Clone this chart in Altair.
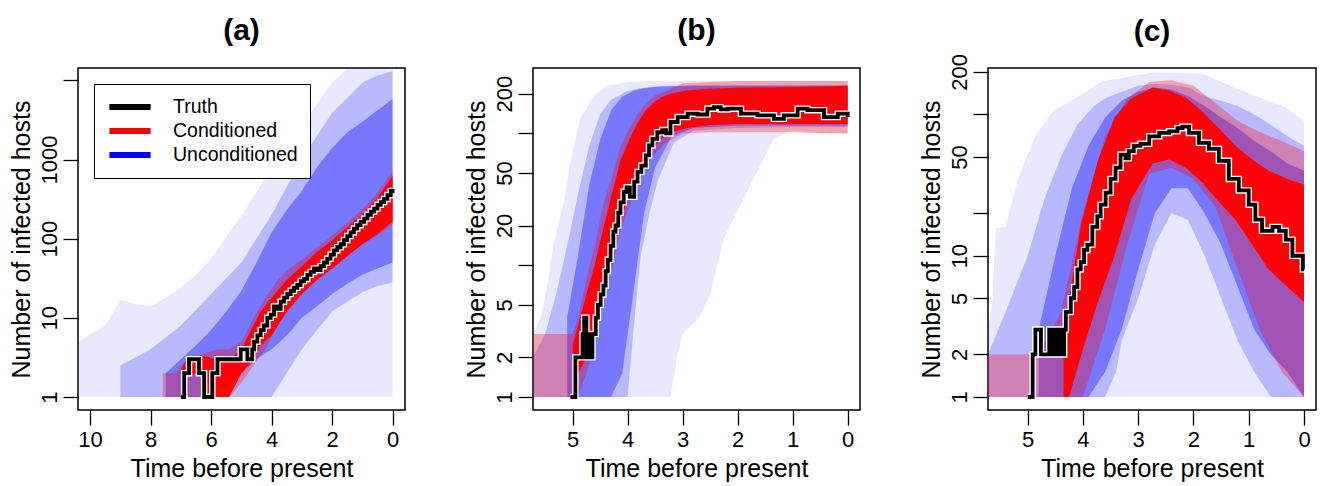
import altair as alt
import pandas as pd

FONT = "Liberation Sans"
BLUE = "#0000ff"
RED = "#ff0000"

SERIES = ["Truth", "Conditioned", "Unconditioned"]
SERIES_COLORS = ["#000000", RED, BLUE]

# ---------------- Panel (a) ----------------
A_TRUTH_T = [7.00, 6.89, 6.73, 6.40, 6.23, 5.96, 5.79, 5.02, 4.80, 4.64, 4.58, 4.47, 4.36, 4.26,
             4.14, 4.03, 3.92, 3.81, 3.70, 3.59, 3.48, 3.37, 3.26, 3.15, 3.04, 2.93, 2.82, 2.71,
             2.60, 2.49, 2.38, 2.27, 2.16, 2.05, 1.94, 1.83, 1.72, 1.61, 1.50, 1.39, 1.28, 1.17,
             1.06, 0.94, 0.83, 0.72, 0.61, 0.50, 0.39, 0.28, 0.17, 0.06, 0.00]
A_TRUTH_N = [1, 2, 3, 2, 1, 2, 3, 4, 3, 4, 5, 6, 7, 8,
             10, 11, 14, 13, 16, 18, 20, 22, 24, 26, 29, 31, 35, 38,
             42, 40, 45, 50, 56, 63, 71, 78, 85, 96, 108, 120, 134, 148,
             163, 179, 200, 220, 240, 268, 290, 318, 355, 400, 428]

A_BO_T = [10.4, 9.5, 9.0, 8.5, 8.0, 7.5, 7.0, 6.5, 6.0, 5.5, 5.0, 4.5, 4.0, 3.5, 3.0, 2.5, 2.0, 1.5, 1.0, 0.5, 0.0]
A_BO_LO = [1, 1, 1, 1, 1, 1, 1, 1, 1, 1, 1, 1, 1, 1, 1, 1, 1, 1, 1, 1, 1]
A_BO_HI = [5, 8, 17, 15, 14, 18, 24, 35, 56, 105, 196, 390, 760, 1450, 2700, 5000, 9400, 14000, 14000, 14000, 14000]

A_BM_T = [9.0, 8.0, 7.0, 6.0, 5.0, 4.0, 3.5, 3.0, 2.5, 2.0, 1.5, 1.0, 0.5, 0.0]
A_BM_LO = [1, 1, 1, 1, 1, 1, 2, 4, 7, 12, 16, 21, 25, 28]
A_BM_HI = [2.5, 4, 8, 20, 50, 200, 450, 1000, 2000, 3900, 6000, 9400, 11500, 13000]

A_BI_T = [7.5, 7.0, 6.5, 6.0, 5.5, 5.0, 4.5, 4.0, 3.5, 3.0, 2.5, 2.0, 1.5, 1.0, 0.5, 0.0]
A_BI_LO = [1, 1, 1, 1, 1.3, 2, 3, 4, 6, 10, 14, 20, 27, 35, 42, 50]
A_BI_HI = [2, 3, 4.5, 7, 12, 22, 50, 120, 230, 400, 800, 1400, 2200, 3000, 4200, 5800]

A_RF_T = [7.6, 7.2, 6.8, 6.3, 5.8, 5.4, 5.0, 4.6, 4.2, 3.8, 3.4, 3.0, 2.5, 2.0, 1.5, 1.0, 0.5, 0.0]
A_RF_LO = [1, 1, 1, 1, 1, 1, 1.5, 2.5, 4, 8, 13, 20, 30, 42, 60, 85, 110, 150]
A_RF_HI = [2, 2, 3, 3.5, 4, 4, 5, 10, 18, 30, 42, 55, 78, 110, 160, 235, 380, 720]

A_RC_T = [7.0, 6.8, 6.5, 6.3, 6.1, 5.8, 5.4, 5.0, 4.6, 4.36, 4.0, 3.5, 3.0, 2.5, 2.0, 1.5, 1.0, 0.5, 0.0]
A_RC_LO = [1.8, 1.9, 2, 2, 1, 1, 1, 2, 3, 4.5, 6, 12, 20, 30, 42, 60, 85, 115, 165]
A_RC_HI = [2.2, 3.1, 3.3, 3.3, 3.2, 3, 3, 4, 8, 12, 18, 30, 45, 68, 95, 140, 205, 330, 620]

# ---------------- Panel (b) ----------------
B_TRUTH_T = [5.04, 4.95, 4.82, 4.79, 4.75, 4.70, 4.66, 4.64, 4.58, 4.54, 4.49, 4.44, 4.40, 4.36,
             4.31, 4.26, 4.22, 4.17, 4.13, 4.07, 4.02, 3.96, 3.88, 3.82, 3.75, 3.67, 3.61, 3.55,
             3.46, 3.37, 3.30, 3.22, 3.09, 2.91, 2.73, 2.55, 2.43, 2.31, 2.18, 1.94, 1.64, 1.34,
             1.16, 0.91, 0.73, 0.43, 0.18, 0.00]
B_TRUTH_N = [1, 2, 3, 4, 2, 3, 2, 3, 4, 5, 6, 7, 9, 11,
             14, 18, 20, 25, 30, 36, 39, 33, 43, 51, 57, 68, 81, 91,
             102, 106, 100, 122, 133, 141, 139, 154, 158, 152, 154, 141, 137, 129,
             137, 154, 150, 133, 141, 133]

B_BO_T = [5.72, 5.58, 5.46, 5.34, 5.16, 5.04, 4.86, 4.61, 4.37, 4.0, 3.5, 3.22, 3.1, 3.0, 2.7, 2.5, 2.25, 1.94, 1.64, 1.34, 1.04, 0.5, 0.0]
B_BO_LO = [1, 1, 1, 1, 1, 1, 1, 1, 1, 1, 1, 1, 2, 3, 4, 6, 16, 29, 52, 91, 105, 100, 100]
B_BO_HI = [3, 4, 7, 15, 30, 61, 129, 194, 230, 245, 250, 250, 250, 250, 250, 250, 250, 250, 250, 250, 250, 250, 250]

B_BM_T = [5.72, 5.5, 5.3, 5.1, 4.9, 4.7, 4.5, 4.3, 4.0, 3.9, 3.76, 3.6, 3.46, 3.16, 2.8, 2.0, 1.0, 0.0]
B_BM_LO = [1, 1, 1, 1, 1, 1, 1, 1, 1, 3, 12, 25, 43, 85, 105, 110, 112, 112]
B_BM_HI = [2, 3, 6, 14, 35, 80, 140, 180, 210, 215, 220, 225, 228, 230, 232, 232, 232, 232]

B_BI_T = [5.1, 4.9, 4.7, 4.5, 4.3, 4.1, 3.9, 3.7, 3.5, 3.2, 2.8, 2.0, 1.0, 0.0]
B_BI_LO = [1, 1, 1, 1, 1, 1.5, 6, 25, 55, 95, 110, 115, 115, 115]
B_BI_HI = [4, 12, 40, 90, 150, 190, 210, 220, 225, 228, 230, 230, 230, 230]

B_RF_T = [5.72, 5.0, 4.9, 4.75, 4.6, 4.45, 4.3, 4.13, 3.97, 3.82, 3.67, 3.5, 3.3, 3.0, 2.5, 2.0, 1.0, 0.0]
B_RF_LO = [1, 1, 1, 1.5, 2.5, 5, 9, 18, 28, 40, 55, 70, 85, 100, 102, 102, 102, 100]
B_RF_HI = [3, 3, 4, 8, 14, 28, 45, 80, 110, 140, 170, 195, 210, 240, 245, 250, 250, 250]

B_RC_T = [5.0, 4.9, 4.75, 4.6, 4.43, 4.3, 4.13, 3.97, 3.82, 3.67, 3.52, 3.37, 3.22, 2.91, 2.5, 2.0, 1.0, 0.0]
B_RC_LO = [1, 1.5, 2, 3, 6, 11, 22, 34, 47, 62, 80, 92, 102, 110, 116, 118, 118, 118]
B_RC_HI = [2.5, 3.5, 6, 10, 20, 33, 62, 90, 120, 150, 172, 190, 200, 212, 218, 222, 225, 230]

# ---------------- Panel (c) ----------------
C_TRUTH_T = [5.00, 4.91, 4.86, 4.76, 4.61, 4.57, 4.55, 4.50, 4.47, 4.43, 4.40, 4.36, 4.34, 4.31,
             4.22, 4.16, 4.10, 4.04, 3.98, 3.92, 3.83, 3.74, 3.68, 3.59, 3.50, 3.41, 3.32, 3.23,
             3.17, 3.08, 2.96, 2.80, 2.62, 2.44, 2.29, 2.20, 2.08, 1.90, 1.72, 1.54, 1.36, 1.18,
             1.00, 0.88, 0.76, 0.57, 0.45, 0.33, 0.21, 0.09, 0.02, 0.00]
C_TRUTH_N = [1, 2, 3, 2, 3, 2, 3, 2, 3, 2, 3, 2, 3, 4,
             5, 6, 8, 9, 11, 12, 16, 19, 23, 28, 35, 42, 52, 49,
             55, 60, 62, 70, 74, 76, 80, 82, 74, 63, 57, 47, 35, 29,
             23, 18, 15, 16, 15, 13, 10, 10, 8, 8]

C_BO_T = [5.72, 5.64, 5.58, 5.40, 5.16, 4.85, 4.55, 4.13, 3.65, 2.74, 1.84, 0.94, 0.33, 0.0]
C_BO_LO = [1, 1, 1, 1, 1, 1, 1, 1, 1, 1, 1, 1, 1, 1]
C_BO_HI = [3, 4.7, 15.7, 16, 37, 72, 105, 131, 172, 198, 194, 138, 112, 90]

C_BM_T = [5.72, 5.4, 5.0, 4.7, 4.4, 4.1, 3.8, 3.6, 3.4, 3.3, 3.0, 2.7, 2.4, 2.1, 1.8, 1.5, 1.2, 0.9, 0.6, 0.3, 0.0]
C_BM_LO = [1, 1, 1, 1, 1, 1, 1, 1, 1.5, 2.5, 5, 12, 20, 18, 10, 5, 2.5, 1.5, 1, 1, 1]
C_BM_HI = [2, 4, 10, 25, 50, 85, 115, 130, 140, 145, 160, 165, 162, 155, 135, 125, 115, 100, 85, 70, 60]

C_BI_T = [4.8, 4.5, 4.2, 3.9, 3.6, 3.3, 3.0, 2.7, 2.4, 2.1, 1.8, 1.5, 1.2, 0.9, 0.6, 0.3, 0.0]
C_BI_LO = [1, 1, 1, 1, 1.5, 3, 8, 20, 30, 30, 20, 12, 6, 3, 2, 1.5, 1]
C_BI_HI = [3, 10, 30, 60, 95, 125, 145, 155, 150, 135, 115, 95, 80, 65, 55, 45, 40]

C_RF_T = [5.72, 4.8, 4.4, 4.0, 3.6, 3.2, 2.8, 2.4, 2.0, 1.6, 1.2, 0.8, 0.4, 0.0]
C_RF_LO = [1, 1, 1, 1, 3, 12, 38, 42, 35, 22, 8, 3, 1.5, 1]
C_RF_HI = [2, 2, 4, 20, 70, 130, 170, 175, 160, 120, 90, 75, 65, 55]

C_RC_T = [4.35, 4.25, 4.03, 3.73, 3.43, 3.13, 2.74, 2.44, 2.14, 1.84, 1.54, 1.24, 0.94, 0.64, 0.3, 0.0]
C_RC_LO = [1, 1, 2, 4.7, 10, 25, 45, 48, 42, 33, 24, 18, 12, 8, 6, 4.7]
C_RC_HI = [3, 5, 17, 47, 95, 130, 155, 148, 132, 105, 80, 60, 48, 40, 35, 32]

# axis ticks / domains
A_XTICKS = [0, 2, 4, 6, 8, 10]
BC_XTICKS = [0, 1, 2, 3, 4, 5]
A_YTICKS = [1, 10, 100, 1000, 10000]
A_YHIDE = [10000]
B_YTICKS = [1, 2, 5, 10, 20, 50, 100, 200]
B_YHIDE = [10, 100]
C_YTICKS = [1, 2, 5, 10, 20, 50, 100, 200]
C_YHIDE = [20, 100]

OPACITY = {"bo": 0.09, "bm": 0.2, "bi": 0.35, "rf": 0.3, "rc": 0.95}


def panel(title, bands, truth_t, truth_n, xdom, xticks, ydom, yticks, yhide, width, legend, toff):
    xs = alt.Scale(domain=xdom, reverse=True, nice=False, zero=False)
    ys = alt.Scale(type="log", domain=ydom, nice=False)
    xax = alt.Axis(values=xticks, title="Time before present", format="d")
    cond = " || ".join(f"datum.value == {v}" for v in yhide)
    yax = alt.Axis(values=yticks, title="Number of infected hosts", format="d",
                   labelExpr=f"({cond}) ? '' : datum.label")
    layers = []
    for t, lo, hi, color, op in bands:
        df = pd.DataFrame({"t": t, "lo": lo, "hi": hi})
        layers.append(
            alt.Chart(df).mark_area(color=color, opacity=op, clip=True, interpolate="linear").encode(
                x=alt.X("t:Q", scale=xs, axis=xax),
                y=alt.Y("lo:Q", scale=ys, axis=yax),
                y2="hi:Q",
            )
        )
    tdf = pd.DataFrame({"t": truth_t, "n": truth_n, "series": ["Truth"] * len(truth_t)})
    base = alt.Chart(tdf).encode(
        x=alt.X("t:Q", scale=xs, axis=xax),
        y=alt.Y("n:Q", scale=ys, axis=yax),
        order=alt.Order("t:Q", sort="descending"),
    )
    white = base.mark_line(interpolate="step-after", strokeWidth=6.5, clip=True,
                           strokeJoin="miter").encode(color=alt.value("white"))
    if legend:
        col = alt.Color("series:N", scale=alt.Scale(domain=SERIES, range=SERIES_COLORS),
                        legend=alt.Legend(title=None, orient="top-left", offset=16))
    else:
        col = alt.value("black")
    black = base.mark_line(interpolate="step-after", strokeWidth=3.8, clip=True,
                           strokeJoin="miter").encode(color=col)
    return alt.layer(*layers, white, black).properties(
        width=width, height=342,
        title=alt.TitleParams(title, baseline="alphabetic", offset=toff),
    )


pa = panel("(a)",
           [(A_BO_T, A_BO_LO, A_BO_HI, BLUE, OPACITY["bo"]),
            (A_BM_T, A_BM_LO, A_BM_HI, BLUE, OPACITY["bm"]),
            (A_BI_T, A_BI_LO, A_BI_HI, BLUE, OPACITY["bi"]),
            (A_RF_T, A_RF_LO, A_RF_HI, RED, OPACITY["rf"]),
            (A_RC_T, A_RC_LO, A_RC_HI, RED, OPACITY["rc"])],
           A_TRUTH_T, A_TRUTH_N, [-0.41, 10.40], A_XTICKS, [0.6855, 14322], A_YTICKS, A_YHIDE, 327, True, -2)

pb = panel("(b)",
           [(B_BO_T, B_BO_LO, B_BO_HI, BLUE, OPACITY["bo"]),
            (B_BM_T, B_BM_LO, B_BM_HI, BLUE, OPACITY["bm"]),
            (B_BI_T, B_BI_LO, B_BI_HI, BLUE, OPACITY["bi"]),
            (B_RF_T, B_RF_LO, B_RF_HI, RED, OPACITY["rf"]),
            (B_RC_T, B_RC_LO, B_RC_HI, RED, OPACITY["rc"])],
           B_TRUTH_T, B_TRUTH_N, [-0.224, 5.72], BC_XTICKS, [0.797, 313.3], B_YTICKS, B_YHIDE, 327, False, -2)

pc = panel("(c)",
           [(C_BO_T, C_BO_LO, C_BO_HI, BLUE, OPACITY["bo"]),
            (C_BM_T, C_BM_LO, C_BM_HI, BLUE, OPACITY["bm"]),
            (C_BI_T, C_BI_LO, C_BI_HI, BLUE, OPACITY["bi"]),
            (C_RF_T, C_RF_LO, C_RF_HI, RED, OPACITY["rf"]),
            (C_RC_T, C_RC_LO, C_RC_HI, RED, OPACITY["rc"])],
           C_TRUTH_T, C_TRUTH_N, [-0.217, 5.718], BC_XTICKS, [0.809, 213.3], C_YTICKS, C_YHIDE, 328, False, -17)

chart = alt.hconcat(pa, pb, pc, spacing=57).properties(
    padding={"left": 8, "top": 15, "right": 0, "bottom": 0},
    background="white",
).configure_axis(
    domain=False, grid=False, ticks=True, tickSize=15, tickColor="black", tickWidth=1.3,
    labelFont=FONT, labelFontSize=22, labelColor="black", labelOverlap=False, labelFlush=False,
    titleFont=FONT, titleFontSize=25, titleFontWeight="normal", titleColor="black",
).configure_axisX(
    labelPadding=4, titlePadding=6,
).configure_axisY(
    labelAngle=270, labelAlign="center", labelBaseline="alphabetic", labelPadding=7, titlePadding=4,
).configure_view(
    stroke="black", strokeWidth=1.5,
).configure_title(
    font=FONT, fontSize=30, fontWeight="bold", anchor="middle", color="black",
).configure_legend(
    labelFont=FONT, labelFontSize=19.5, labelColor="black", symbolType="stroke",
    symbolSize=1700, symbolStrokeWidth=6, symbolOpacity=1, labelOffset=19, padding=12,
    rowPadding=2, clipHeight=22, strokeColor="black", fillColor="white",
)

chart.save("out.html", embed_options={"renderer": "svg", "actions": False})
